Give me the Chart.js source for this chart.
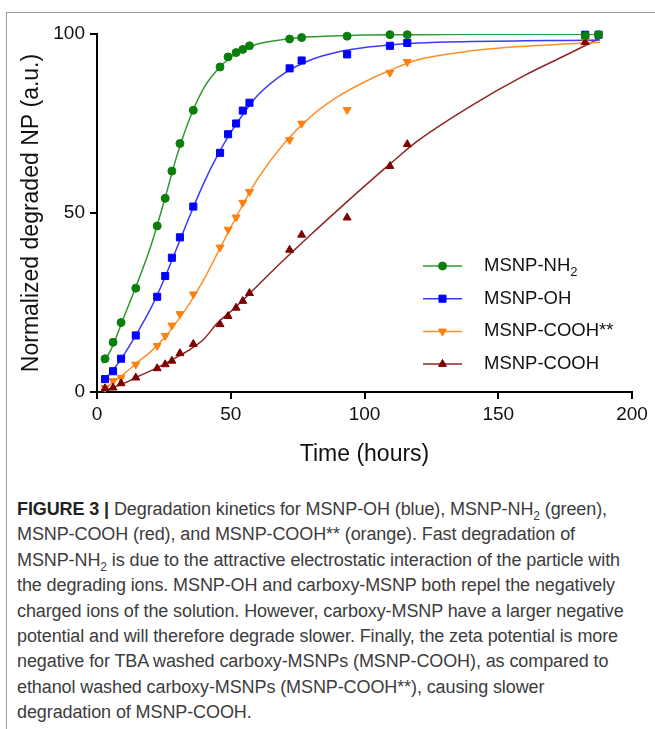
<!DOCTYPE html>
<html>
<head>
<meta charset="utf-8">
<script src="https://cdn.jsdelivr.net/npm/chart.js@4"></script>
<style>
  html, body { margin: 0; padding: 0; background: #fff; }
  body { width: 655px; height: 729px; position: relative; overflow: hidden; font-family: "Liberation Sans", Arial, sans-serif; }
  #frameTop { position: absolute; left: 6px; top: 12px; width: 660px; height: 0; border-top: 1.5px solid #9a9a9a; }
  #frameLeft { position: absolute; left: 6px; top: 12px; width: 0; height: 720px; border-left: 1.5px solid #9a9a9a; }
  #wrap { position: absolute; left: 0; top: 0; width: 655px; height: 480px; }
  #caption { position: absolute; left: 17px; top: 497px; font-size: 18px; line-height: 25.4px; color: #3c3c3c; white-space: nowrap; letter-spacing: -0.1px; }
  #caption b { color: #222; }
</style>
</head>
<body>
<div id="frameTop"></div>
<div id="frameLeft"></div>
<div id="wrap"><canvas id="chart" width="655" height="480"></canvas></div>
<div id="caption">
<b>FIGURE 3 |</b> Degradation kinetics for MSNP-OH (blue), MSNP-NH<sub style="font-size:12px;line-height:0">2</sub> (green),<br>
MSNP-COOH (red), and MSNP-COOH** (orange). Fast degradation of<br>
MSNP-NH<sub style="font-size:12px;line-height:0">2</sub> is due to the attractive electrostatic interaction of the particle with<br>
the degrading ions. MSNP-OH and carboxy-MSNP both repel the negatively<br>
charged ions of the solution. However, carboxy-MSNP have a larger negative<br>
potential and will therefore degrade slower. Finally, the zeta potential is more<br>
negative for TBA washed carboxy-MSNPs (MSNP-COOH), as compared to<br>
ethanol washed carboxy-MSNPs (MSNP-COOH**), causing slower<br>
degradation of MSNP-COOH.
</div>
<script>
// measured time points (hours)
const hours = [3, 6, 9, 14.5, 22.5, 25.5, 28, 31, 36, 46, 49, 52, 54.5, 57, 72, 76.5, 93.5, 109.5, 116, 182.5, 187.5];

// measured values, normalized degraded NP (a.u.)
const nh2 = [9.3, 13.9, 19.4, 29.0, 46.4, 54.1, 61.7, 69.4, 78.7, 90.8, 93.6, 94.8, 95.7, 96.7, 98.6, 99.0, 99.4, 99.8, 99.8, 99.5, 99.8];
const oh = [3.6, 5.8, 9.3, 15.8, 26.6, 32.4, 37.5, 43.2, 51.8, 66.8, 72.0, 75.0, 78.6, 80.8, 90.4, 92.6, 94.3, 96.7, 97.5, 99.8, 99.8];
const coohEtOH = [1.2, 3.1, 4.0, 7.7, 12.9, 15.7, 18.6, 21.8, 27.3, 40.4, 45.4, 48.8, 52.9, 55.9, 70.4, 75.0, 78.8, 89.2, 92.2, 98.1, null];
const cooh = [1.0, 1.2, 2.4, 4.0, 6.6, 7.7, 8.7, 10.8, 13.4, 18.9, 21.2, 23.5, 25.4, 27.6, 39.7, 43.9, 48.7, 63.1, 69.2, 97.7, null];

// fitted curves
const fitHours = [2, 5, 10, 15, 20, 25, 30, 35, 40, 45, 50, 55, 60, 70, 80, 90, 100, 110, 120, 140, 160, 175, 188];
const nh2Fit = [8.0, 11.5, 20.8, 30.3, 40.5, 53.0, 66.3, 77.0, 85.0, 90.0, 93.5, 95.7, 97.2, 98.5, 99.2, 99.5, 99.7, 99.8, 99.8, 99.9, 99.9, 99.9, 99.9];
const ohFit = [2.8, 5.2, 10.3, 16.5, 23.2, 31.3, 40.5, 49.8, 58.5, 66.0, 72.5, 78.0, 82.8, 89.0, 92.8, 95.0, 96.2, 97.0, 97.5, 97.9, 98.1, 98.2, 98.3];
const coohEtOHFit = [0.3, 2.2, 5.0, 8.2, 11.2, 15.0, 19.8, 25.2, 31.5, 38.7, 46.0, 53.0, 59.5, 69.5, 77.0, 82.5, 86.6, 90.0, 92.8, 95.3, 96.6, 97.2, 97.7];
const coohFit = [0.0, 1.0, 2.4, 4.2, 5.9, 7.7, 9.8, 12.0, 14.8, 19.3, 22.5, 26.0, 29.7, 37.0, 44.0, 50.8, 57.5, 64.0, 70.2, 80.0, 88.5, 94.0, 98.8];

const seriesLabels = ['MSNP-NH\u2082', 'MSNP-OH', 'MSNP-COOH**', 'MSNP-COOH'];
const xTicks = [0, 50, 100, 150, 200];
const yTicks = [0, 50, 100];

const pts = (xs, ys) => xs.map((x, i) => ({ x: x, y: ys[i] })).filter(p => p.y !== null);

const styles = [
  { mark: '#0b7f0b', line: '#2f9a2f', shape: 'circle', r: 4, rot: 0 },
  { mark: '#0000ff', line: '#3b3bff', shape: 'rect', r: 5, rot: 0 },
  { mark: '#ff7f0f', line: '#ff8f2a', shape: 'triangle', r: 4.6, rot: 180 },
  { mark: '#7d0000', line: '#8e2424', shape: 'triangle', r: 4.6, rot: 0 },
];
const measured = [nh2, oh, coohEtOH, cooh];
const fits = [nh2Fit, ohFit, coohEtOHFit, coohFit];
const pointOrder = [1, 2, 4, 3];

const datasets = [];
styles.forEach((s, i) => {
  datasets.push({
    label: seriesLabels[i],
    data: pts(hours, measured[i]),
    showLine: false,
    pointStyle: s.shape,
    pointRotation: s.rot,
    pointRadius: s.r,
    pointBackgroundColor: s.mark,
    pointBorderColor: s.mark,
    pointBorderWidth: 1,
    order: pointOrder[i],
    clip: false
  });
});
styles.forEach((s, i) => {
  datasets.push({
    label: seriesLabels[i] + ' fit',
    data: pts(fitHours, fits[i]),
    showLine: true,
    borderColor: s.line,
    borderWidth: 1.5,
    pointRadius: 0,
    cubicInterpolationMode: 'monotone',
    order: 10 + i
  });
});

// legend drawn by hand so the subscript in NH2 can be kept
const legendPlugin = {
  id: 'figLegend',
  afterDraw(chart) {
    const ctx = chart.ctx;
    const x0 = 423, x1 = 462, tx = 484, top = 266, step = 32.7;
    ctx.save();
    styles.forEach((s, i) => {
      const y = top + i * step;
      ctx.strokeStyle = s.line;
      ctx.lineWidth = 1.5;
      ctx.beginPath();
      ctx.moveTo(x0, y);
      ctx.lineTo(x1, y);
      ctx.stroke();
      ctx.fillStyle = s.mark;
      ctx.strokeStyle = s.mark;
      ctx.lineWidth = 1;
      Chart.helpers.drawPoint(ctx, { pointStyle: s.shape, rotation: s.rot, radius: s.r, borderWidth: 1 }, (x0 + x1) / 2, y);
      // label with subscript support
      ctx.fillStyle = '#111';
      ctx.textBaseline = 'middle';
      ctx.textAlign = 'left';
      let cx = tx;
      const label = seriesLabels[i];
      for (const ch of label) {
        if (ch === '\u2082') {
          ctx.font = '13px "Liberation Sans", Arial, sans-serif';
          ctx.fillText('2', cx, y + 6);
          cx += ctx.measureText('2').width;
        } else {
          ctx.font = '18.5px "Liberation Sans", Arial, sans-serif';
          ctx.fillText(ch, cx, y);
          cx += ctx.measureText(ch).width;
        }
      }
    });
    ctx.restore();
  }
};

const axisFont = { family: '"Liberation Sans", Arial, sans-serif', size: 19 };
const titleFont = { family: '"Liberation Sans", Arial, sans-serif', size: 23 };

new Chart(document.getElementById('chart'), {
  type: 'scatter',
  data: { datasets: datasets },
  options: {
    responsive: false,
    devicePixelRatio: 1,
    animation: false,
    layout: { padding: { left: 0, right: 23, top: 34, bottom: 0 } },
    plugins: { legend: { display: false }, tooltip: { enabled: false } },
    scales: {
      x: {
        type: 'linear',
        min: 0, max: 200,
        afterBuildTicks: (scale) => { scale.ticks = xTicks.map(v => ({ value: v })); },
        afterFit: (scale) => { scale.height = 88; },
        border: { display: true, color: '#000', width: 2 },
        grid: { drawOnChartArea: false, drawTicks: true, tickLength: 7, color: '#000', lineWidth: 2 },
        ticks: { color: '#111', font: axisFont, padding: 4, maxRotation: 0 },
        title: { display: true, text: 'Time (hours)', color: '#111', font: titleFont, padding: { top: 0, bottom: 12 } }
      },
      y: {
        type: 'linear',
        min: 0, max: 100,
        afterBuildTicks: (scale) => { scale.ticks = yTicks.map(v => ({ value: v })); },
        afterFit: (scale) => { scale.width = 97; },
        border: { display: true, color: '#000', width: 2 },
        grid: { drawOnChartArea: false, drawTicks: true, tickLength: 7, color: '#000', lineWidth: 2 },
        ticks: { color: '#111', font: axisFont, padding: 5 },
        title: { display: true, text: 'Normalized degraded NP (a.u.)', color: '#111', font: titleFont, padding: { top: 18, bottom: 0 } }
      }
    }
  },
  plugins: [legendPlugin]
});
</script>
</body>
</html>
